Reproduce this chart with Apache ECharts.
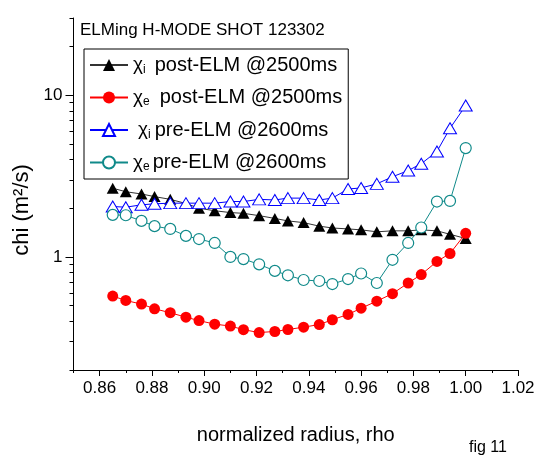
<!DOCTYPE html>
<html>
<head>
<meta charset="utf-8">
<script src="https://cdn.jsdelivr.net/npm/echarts@6/dist/echarts.min.js"></script>
<style>
html,body{margin:0;padding:0;background:#fff;}
#c{width:538px;height:458px;}
</style>
</head>
<body>
<div id="c"></div>
<script>
// ---- data ----
const rho = [0.865, 0.870, 0.876, 0.881, 0.887, 0.893, 0.898, 0.904, 0.910, 0.915, 0.921, 0.927, 0.932, 0.938, 0.944, 0.949, 0.955, 0.960, 0.966, 0.972, 0.978, 0.983, 0.989, 0.994, 1.000];
const chiIPost = [2.66, 2.53, 2.45, 2.36, 2.27, 2.14, 2.00, 1.93, 1.88, 1.86, 1.80, 1.73, 1.67, 1.63, 1.55, 1.51, 1.49, 1.47, 1.43, 1.45, 1.45, 1.47, 1.45, 1.38, 1.30];
const chiEPost = [0.573, 0.538, 0.511, 0.478, 0.452, 0.424, 0.404, 0.384, 0.374, 0.355, 0.341, 0.346, 0.356, 0.368, 0.382, 0.409, 0.441, 0.482, 0.533, 0.593, 0.690, 0.778, 0.938, 1.05, 1.40];
const chiIPre = [2.05, 2.03, 2.10, 2.13, 2.15, 2.15, 2.15, 2.15, 2.20, 2.20, 2.27, 2.25, 2.31, 2.31, 2.25, 2.31, 2.63, 2.67, 2.83, 3.13, 3.42, 3.77, 4.49, 6.24, 8.63];
const chiEPre = [1.82, 1.81, 1.67, 1.55, 1.49, 1.35, 1.29, 1.22, 1.00, 0.97, 0.90, 0.82, 0.77, 0.72, 0.71, 0.68, 0.73, 0.79, 0.69, 0.96, 1.22, 1.52, 2.20, 2.22, 4.71];
const seriesNames = ['chiIPost', 'chiEPost', 'chiIPre', 'chiEPre'];
const xMajorTicks = [0.86, 0.88, 0.90, 0.92, 0.94, 0.96, 0.98, 1.00, 1.02];
const xMinorTicks = [0.85, 0.87, 0.89, 0.91, 0.93, 0.95, 0.97, 0.99, 1.01];
const yMajorTicks = [1, 10];
const yMinorTicks = [0.2, 0.3, 0.4, 0.5, 0.6, 0.7, 0.8, 0.9, 2, 3, 4, 5, 6, 7, 8, 9, 20, 30];

const FONT = "'Liberation Sans', Arial, Helvetica, sans-serif";
const chart = echarts.init(document.getElementById('c'), null, {renderer: 'canvas'});
const pairs = arr => rho.map((r, i) => [r, arr[i]]);

const legendText = {
  chiIPost: '{g|χ}{s|i}{t1|post-ELM @2500ms}',
  chiEPost: '{g|χ}{s|e}{t2|post-ELM @2500ms}',
  chiIPre: '{g3|χ}{s|i}{t3|pre-ELM @2600ms}',
  chiEPre: '{g|χ}{s|e}{t4|pre-ELM @2600ms}'
};

const axisBlack = {lineStyle: {color: '#000', width: 1}};

chart.setOption({
  animation: false,
  backgroundColor: '#fff',
  textStyle: {fontFamily: FONT},
  title: [
    {text: 'ELMing H-MODE SHOT 123302', left: 80, top: 22,
     textStyle: {fontFamily: FONT, fontSize: 17, fontWeight: 'normal', color: '#000'}, padding: 0},
    {text: 'fig 11', left: 469, top: 440,
     textStyle: {fontFamily: FONT, fontSize: 16, fontWeight: 'normal', color: '#000'}, padding: 0}
  ],
  grid: {left: 73.5, right: 20, top: 18, bottom: 88, containLabel: false},
  xAxis: [
    {type: 'value', min: 0.85, max: 1.02, position: 'bottom',
     axisLine: axisBlack,
     axisTick: {show: true, customValues: xMajorTicks, length: 6, lineStyle: {color: '#000'}},
     axisLabel: {customValues: xMajorTicks, formatter: v => v.toFixed(2), fontSize: 17, color: '#000', margin: 10, fontFamily: FONT},
     splitLine: {show: false},
     name: 'normalized radius, rho', nameLocation: 'middle', nameGap: 55,
     nameTextStyle: {fontSize: 20, color: '#000', fontFamily: FONT}},
    {type: 'value', min: 0.85, max: 1.02, position: 'bottom', offset: 0,
     axisLine: {show: false},
     axisTick: {show: true, customValues: xMinorTicks, length: 3, lineStyle: {color: '#000'}},
     axisLabel: {show: false}, splitLine: {show: false}}
  ],
  yAxis: [
    {type: 'log', logBase: 10, min: 0.2, max: 30, position: 'left',
     axisLine: axisBlack,
     axisTick: {show: true, customValues: yMajorTicks, length: 8, lineStyle: {color: '#000'}},
     axisLabel: {customValues: yMajorTicks, formatter: v => String(Math.round(v)), fontSize: 17, color: '#000', margin: 11, fontFamily: FONT},
     splitLine: {show: false},
     name: 'chi (m²/s)', nameLocation: 'middle', nameGap: 32, nameRotate: 90,
     nameTextStyle: {fontSize: 22, color: '#000', fontFamily: FONT, padding: [0, 32, 0, 0]}},
    {type: 'log', logBase: 10, min: 0.2, max: 30, position: 'left', offset: 0,
     axisLine: {show: false},
     axisTick: {show: true, customValues: yMinorTicks, length: 4, lineStyle: {color: '#000'}},
     axisLabel: {show: false}, splitLine: {show: false}}
  ],
  legend: {
    orient: 'vertical', left: 84, top: 49,
    data: seriesNames,
    borderColor: '#000', borderWidth: 1, borderRadius: 0,
    backgroundColor: '#fff',
    padding: [6, 6, 6, 5], itemGap: 12,
    itemWidth: 38, itemHeight: 15,
    formatter: name => legendText[name],
    textStyle: {
      fontFamily: FONT, fontSize: 20, color: '#000',
      rich: {
        g: {fontSize: 19, fontFamily: FONT, color: '#000'},
        g3: {fontSize: 19, fontFamily: FONT, color: '#000', padding: [0, 0, 0, 5]},
        s: {fontSize: 12, fontFamily: FONT, color: '#000', padding: [9, 0, 0, 0]},
        t1: {fontSize: 20, fontFamily: FONT, color: '#000', padding: [0, 0, 0, 9]},
        t2: {fontSize: 20, fontFamily: FONT, color: '#000', padding: [0, 0, 0, 10]},
        t3: {fontSize: 20, fontFamily: FONT, color: '#000', padding: [0, 0, 0, 4]},
        t4: {fontSize: 20, fontFamily: FONT, color: '#000', padding: [0, 0, 0, 3]}
      }
    }
  },
  series: [
    {name: 'chiIPost', type: 'line', data: pairs(chiIPost), symbol: 'triangle', symbolSize: [12, 11],
     itemStyle: {color: '#000'}, lineStyle: {color: '#333', width: 1}, z: 2},
    {name: 'chiEPost', type: 'line', data: pairs(chiEPost), symbol: 'circle', symbolSize: 11,
     itemStyle: {color: '#ff0000'}, lineStyle: {color: '#ff0000', width: 1}, z: 3},
    {name: 'chiIPre', type: 'line', data: pairs(chiIPre), symbol: 'triangle', symbolSize: [13, 11],
     itemStyle: {color: '#fff', borderColor: '#0000ff', borderWidth: 1}, lineStyle: {color: '#0000ff', width: 1}, z: 4},
    {name: 'chiEPre', type: 'line', data: pairs(chiEPre), symbol: 'circle', symbolSize: 11,
     itemStyle: {color: '#fff', borderColor: '#108a8a', borderWidth: 1.2}, lineStyle: {color: '#108a8a', width: 1}, z: 5}
  ]
});
</script>
</body>
</html>
